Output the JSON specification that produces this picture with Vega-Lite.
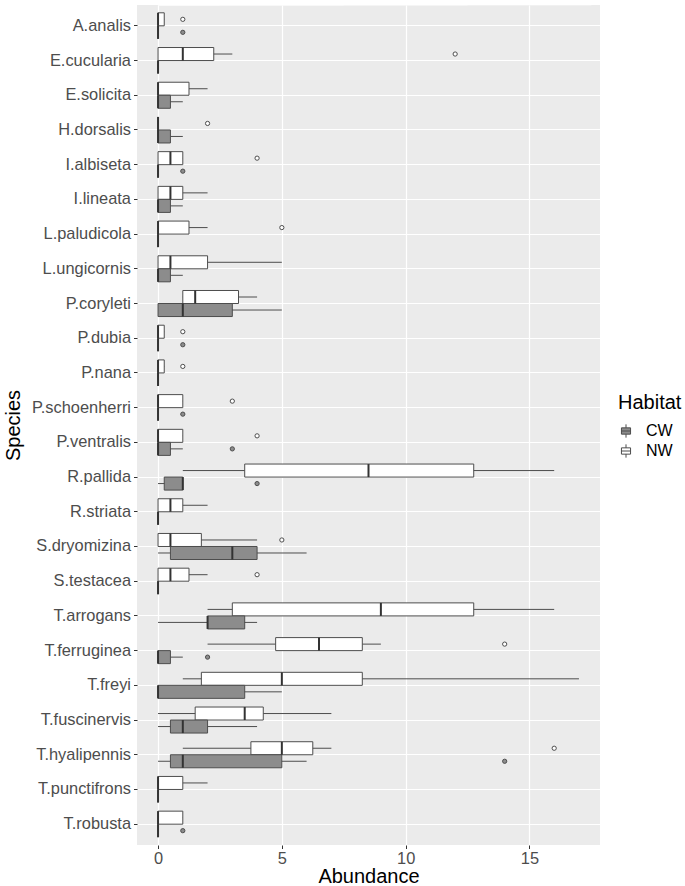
{
  "$schema": "https://vega.github.io/schema/vega-lite/v6.json",
  "width": 463,
  "height": 840,
  "autosize": {"type": "none"},
  "padding": {"left": 137, "top": 5, "right": 85, "bottom": 41},
  "background": "white",
  "config": {
    "view": {"fill": "#EBEBEB", "stroke": null},
    "font": "Liberation Sans"
  },
  "datasets": {
    "boxes": [
      {"species": "A.analis", "habitat": "NW", "lo": 0, "q1": 0, "med": 0, "q3": 0.25, "hi": 0.25},
      {"species": "A.analis", "habitat": "CW", "lo": 0, "q1": 0, "med": 0, "q3": 0, "hi": 0},
      {"species": "E.cucularia", "habitat": "NW", "lo": 0, "q1": 0, "med": 1, "q3": 2.25, "hi": 3},
      {"species": "E.cucularia", "habitat": "CW", "lo": 0, "q1": 0, "med": 0, "q3": 0, "hi": 0},
      {"species": "E.solicita", "habitat": "NW", "lo": 0, "q1": 0, "med": 0, "q3": 1.25, "hi": 2},
      {"species": "E.solicita", "habitat": "CW", "lo": 0, "q1": 0, "med": 0, "q3": 0.5, "hi": 1},
      {"species": "H.dorsalis", "habitat": "NW", "lo": 0, "q1": 0, "med": 0, "q3": 0, "hi": 0},
      {"species": "H.dorsalis", "habitat": "CW", "lo": 0, "q1": 0, "med": 0, "q3": 0.5, "hi": 1},
      {"species": "I.albiseta", "habitat": "NW", "lo": 0, "q1": 0, "med": 0.5, "q3": 1, "hi": 1},
      {"species": "I.albiseta", "habitat": "CW", "lo": 0, "q1": 0, "med": 0, "q3": 0, "hi": 0},
      {"species": "I.lineata", "habitat": "NW", "lo": 0, "q1": 0, "med": 0.5, "q3": 1, "hi": 2},
      {"species": "I.lineata", "habitat": "CW", "lo": 0, "q1": 0, "med": 0, "q3": 0.5, "hi": 1},
      {"species": "L.paludicola", "habitat": "NW", "lo": 0, "q1": 0, "med": 0, "q3": 1.25, "hi": 2},
      {"species": "L.paludicola", "habitat": "CW", "lo": 0, "q1": 0, "med": 0, "q3": 0, "hi": 0},
      {"species": "L.ungicornis", "habitat": "NW", "lo": 0, "q1": 0, "med": 0.5, "q3": 2, "hi": 5},
      {"species": "L.ungicornis", "habitat": "CW", "lo": 0, "q1": 0, "med": 0, "q3": 0.5, "hi": 1},
      {"species": "P.coryleti", "habitat": "NW", "lo": 1, "q1": 1, "med": 1.5, "q3": 3.25, "hi": 4},
      {"species": "P.coryleti", "habitat": "CW", "lo": 0, "q1": 0, "med": 1, "q3": 3, "hi": 5},
      {"species": "P.dubia", "habitat": "NW", "lo": 0, "q1": 0, "med": 0, "q3": 0.25, "hi": 0.25},
      {"species": "P.dubia", "habitat": "CW", "lo": 0, "q1": 0, "med": 0, "q3": 0, "hi": 0},
      {"species": "P.nana", "habitat": "NW", "lo": 0, "q1": 0, "med": 0, "q3": 0.25, "hi": 0.25},
      {"species": "P.nana", "habitat": "CW", "lo": 0, "q1": 0, "med": 0, "q3": 0, "hi": 0},
      {"species": "P.schoenherri", "habitat": "NW", "lo": 0, "q1": 0, "med": 0, "q3": 1, "hi": 1},
      {"species": "P.schoenherri", "habitat": "CW", "lo": 0, "q1": 0, "med": 0, "q3": 0, "hi": 0},
      {"species": "P.ventralis", "habitat": "NW", "lo": 0, "q1": 0, "med": 0, "q3": 1, "hi": 1},
      {"species": "P.ventralis", "habitat": "CW", "lo": 0, "q1": 0, "med": 0, "q3": 0.5, "hi": 1},
      {"species": "R.pallida", "habitat": "NW", "lo": 1, "q1": 3.5, "med": 8.5, "q3": 12.75, "hi": 16},
      {"species": "R.pallida", "habitat": "CW", "lo": 0, "q1": 0.25, "med": 1, "q3": 1, "hi": 1},
      {"species": "R.striata", "habitat": "NW", "lo": 0, "q1": 0, "med": 0.5, "q3": 1, "hi": 2},
      {"species": "R.striata", "habitat": "CW", "lo": 0, "q1": 0, "med": 0, "q3": 0, "hi": 0},
      {"species": "S.dryomizina", "habitat": "NW", "lo": 0, "q1": 0, "med": 0.5, "q3": 1.75, "hi": 4},
      {"species": "S.dryomizina", "habitat": "CW", "lo": 0, "q1": 0.5, "med": 3, "q3": 4, "hi": 6},
      {"species": "S.testacea", "habitat": "NW", "lo": 0, "q1": 0, "med": 0.5, "q3": 1.25, "hi": 2},
      {"species": "S.testacea", "habitat": "CW", "lo": 0, "q1": 0, "med": 0, "q3": 0, "hi": 0},
      {"species": "T.arrogans", "habitat": "NW", "lo": 2, "q1": 3, "med": 9, "q3": 12.75, "hi": 16},
      {"species": "T.arrogans", "habitat": "CW", "lo": 0, "q1": 2, "med": 2, "q3": 3.5, "hi": 4},
      {"species": "T.ferruginea", "habitat": "NW", "lo": 2, "q1": 4.75, "med": 6.5, "q3": 8.25, "hi": 9},
      {"species": "T.ferruginea", "habitat": "CW", "lo": 0, "q1": 0, "med": 0, "q3": 0.5, "hi": 1},
      {"species": "T.freyi", "habitat": "NW", "lo": 1, "q1": 1.75, "med": 5, "q3": 8.25, "hi": 17},
      {"species": "T.freyi", "habitat": "CW", "lo": 0, "q1": 0, "med": 0, "q3": 3.5, "hi": 5},
      {"species": "T.fuscinervis", "habitat": "NW", "lo": 0, "q1": 1.5, "med": 3.5, "q3": 4.25, "hi": 7},
      {"species": "T.fuscinervis", "habitat": "CW", "lo": 0, "q1": 0.5, "med": 1, "q3": 2, "hi": 4},
      {"species": "T.hyalipennis", "habitat": "NW", "lo": 1, "q1": 3.75, "med": 5, "q3": 6.25, "hi": 7},
      {"species": "T.hyalipennis", "habitat": "CW", "lo": 0, "q1": 0.5, "med": 1, "q3": 5, "hi": 6},
      {"species": "T.punctifrons", "habitat": "NW", "lo": 0, "q1": 0, "med": 0, "q3": 1, "hi": 2},
      {"species": "T.punctifrons", "habitat": "CW", "lo": 0, "q1": 0, "med": 0, "q3": 0, "hi": 0},
      {"species": "T.robusta", "habitat": "NW", "lo": 0, "q1": 0, "med": 0, "q3": 1, "hi": 1},
      {"species": "T.robusta", "habitat": "CW", "lo": 0, "q1": 0, "med": 0, "q3": 0, "hi": 0}
    ],
    "outliers": [
      {"species": "A.analis", "habitat": "NW", "value": 1},
      {"species": "A.analis", "habitat": "CW", "value": 1},
      {"species": "E.cucularia", "habitat": "NW", "value": 12},
      {"species": "H.dorsalis", "habitat": "NW", "value": 2},
      {"species": "I.albiseta", "habitat": "NW", "value": 4},
      {"species": "I.albiseta", "habitat": "CW", "value": 1},
      {"species": "L.paludicola", "habitat": "NW", "value": 5},
      {"species": "P.dubia", "habitat": "NW", "value": 1},
      {"species": "P.dubia", "habitat": "CW", "value": 1},
      {"species": "P.nana", "habitat": "NW", "value": 1},
      {"species": "P.schoenherri", "habitat": "NW", "value": 3},
      {"species": "P.schoenherri", "habitat": "CW", "value": 1},
      {"species": "P.ventralis", "habitat": "NW", "value": 4},
      {"species": "P.ventralis", "habitat": "CW", "value": 3},
      {"species": "R.pallida", "habitat": "CW", "value": 4},
      {"species": "S.dryomizina", "habitat": "NW", "value": 5},
      {"species": "S.testacea", "habitat": "NW", "value": 4},
      {"species": "T.ferruginea", "habitat": "NW", "value": 14},
      {"species": "T.ferruginea", "habitat": "CW", "value": 2},
      {"species": "T.hyalipennis", "habitat": "NW", "value": 16},
      {"species": "T.hyalipennis", "habitat": "CW", "value": 14},
      {"species": "T.robusta", "habitat": "CW", "value": 1}
    ],
    "minor": [{"v": 2.5}, {"v": 7.5}, {"v": 12.5}, {"v": 17.5}]
  },
  "layer": [
    {
      "data": {"name": "minor"},
      "mark": {"type": "rule", "color": "white", "strokeWidth": 0.6},
      "encoding": {
        "x": {"field": "v", "type": "quantitative", "scale": {"domain": [-0.85, 17.85], "nice": false, "zero": false}}
      }
    },
    {
      "data": {"name": "boxes"},
      "mark": {"type": "rule", "color": "#4D4D4D", "strokeWidth": 1},
      "encoding": {
        "y": {"field": "species", "type": "nominal"},
        "yOffset": {"field": "habitat", "type": "nominal"},
        "x": {"field": "lo", "type": "quantitative"},
        "x2": {"field": "hi"}
      }
    },
    {
      "data": {"name": "boxes"},
      "mark": {"type": "bar", "stroke": "#4D4D4D", "strokeWidth": 1},
      "encoding": {
        "y": {"field": "species", "type": "nominal"},
        "yOffset": {"field": "habitat", "type": "nominal"},
        "x": {"field": "q1", "type": "quantitative"},
        "x2": {"field": "q3"},
        "fill": {
          "field": "habitat",
          "type": "nominal",
          "scale": {"domain": ["CW", "NW"], "range": ["#8C8C8C", "#FFFFFF"]},
          "legend": {
            "title": "Habitat",
            "orient": "none",
            "legendX": 481,
            "legendY": 388,
            "titleFontSize": 20,
            "titleFontWeight": "normal",
            "titleColor": "black",
            "titlePadding": 10,
            "labelFontSize": 16,
            "labelColor": "black",
            "symbolType": "M-0.65,-0.45H0.65V0.45H-0.65Z M-0.65,0H0.65 M0,-0.45V-0.95 M0,0.45V0.95",
            "symbolSize": 196,
            "symbolStrokeColor": "#4D4D4D",
            "symbolStrokeWidth": 1,
            "rowPadding": 2,
            "labelOffset": 12
          }
        }
      }
    },
    {
      "data": {"name": "boxes"},
      "mark": {"type": "tick", "orient": "vertical", "size": 13, "thickness": 2, "color": "#333333", "opacity": 1},
      "encoding": {
        "y": {"field": "species", "type": "nominal"},
        "yOffset": {"field": "habitat", "type": "nominal"},
        "x": {"field": "med", "type": "quantitative"}
      }
    },
    {
      "data": {"name": "outliers"},
      "mark": {"type": "point", "shape": "circle", "size": 18, "filled": true, "stroke": "#4D4D4D", "strokeWidth": 1, "opacity": 1},
      "encoding": {
        "y": {"field": "species", "type": "nominal"},
        "yOffset": {"field": "habitat", "type": "nominal"},
        "x": {"field": "value", "type": "quantitative"},
        "fill": {"field": "habitat", "type": "nominal", "legend": null}
      }
    }
  ],
  "encoding": {
    "y": {
      "field": "species",
      "type": "nominal",
      "sort": null,
      "scale": {
        "domain": ["A.analis", "E.cucularia", "E.solicita", "H.dorsalis", "I.albiseta", "I.lineata", "L.paludicola", "L.ungicornis", "P.coryleti", "P.dubia", "P.nana", "P.schoenherri", "P.ventralis", "R.pallida", "R.striata", "S.dryomizina", "S.testacea", "T.arrogans", "T.ferruginea", "T.freyi", "T.fuscinervis", "T.hyalipennis", "T.punctifrons", "T.robusta"],
        "paddingInner": 0,
        "paddingOuter": 0.1
      },
      "axis": {
        "title": "Species",
        "titleFontSize": 20,
        "titleFontWeight": "normal",
        "titleColor": "black",
        "titlePadding": 8,
        "labelFontSize": 16.4,
        "labelColor": "#4D4D4D",
        "labelPadding": 3,
        "tickColor": "#333333",
        "tickSize": 3.5,
        "domain": false,
        "grid": true,
        "gridColor": "white",
        "gridWidth": 1.2,
        "bandPosition": 0.5
      }
    },
    "yOffset": {
      "field": "habitat",
      "type": "nominal",
      "scale": {"domain": ["NW", "CW"], "paddingInner": 0, "paddingOuter": 0.333}
    },
    "x": {
      "type": "quantitative",
      "scale": {"domain": [-0.85, 17.85], "nice": false, "zero": false},
      "axis": {
        "title": "Abundance",
        "values": [0, 5, 10, 15],
        "titleFontSize": 20,
        "titleFontWeight": "normal",
        "titleColor": "black",
        "titlePadding": 0,
        "labelFontSize": 16.4,
        "labelColor": "#4D4D4D",
        "labelPadding": 2,
        "tickColor": "#333333",
        "tickSize": 3.5,
        "domain": false,
        "grid": true,
        "gridColor": "white",
        "gridWidth": 1.2
      }
    }
  }
}
